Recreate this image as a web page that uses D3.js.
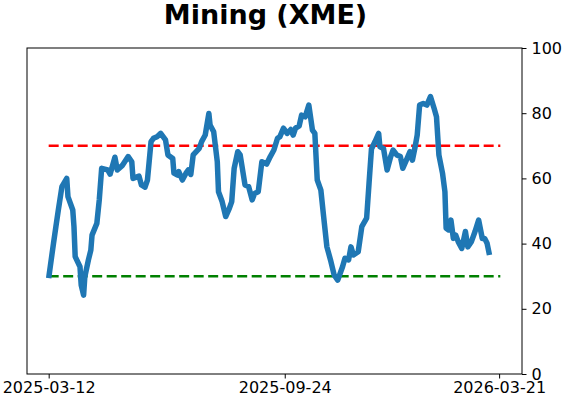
<!DOCTYPE html>
<html>
<head>
<meta charset="utf-8">
<script src="https://cdn.jsdelivr.net/npm/d3@7"></script>
<style>
  body { margin: 0; background: #fff; }
  svg text { font-family: "DejaVu Sans", sans-serif; fill: #000; }
</style>
</head>
<body>
<div class="chart"></div>
<script>
// series
var dates = [
  "2025-03-12","2025-03-16","2025-03-18","2025-03-20","2025-03-23","2025-03-27","2025-03-28",
  "2025-04-01","2025-04-02","2025-04-03","2025-04-07","2025-04-08","2025-04-10","2025-04-11",
  "2025-04-14","2025-04-16","2025-04-17","2025-04-21","2025-04-23","2025-04-25","2025-04-30",
  "2025-05-02","2025-05-06","2025-05-08","2025-05-12","2025-05-17","2025-05-20","2025-05-21",
  "2025-05-26","2025-05-28","2025-05-31","2025-06-02","2025-06-05","2025-06-07","2025-06-10",
  "2025-06-13","2025-06-17","2025-06-19","2025-06-23","2025-06-24","2025-06-27","2025-06-28",
  "2025-07-01","2025-07-04","2025-07-06","2025-07-08","2025-07-10","2025-07-15","2025-07-17",
  "2025-07-20","2025-07-23","2025-07-24","2025-07-27","2025-07-30","2025-07-31","2025-08-03",
  "2025-08-06","2025-08-09","2025-08-11","2025-08-13","2025-08-16","2025-08-18","2025-08-22",
  "2025-08-25","2025-08-28","2025-08-30","2025-09-02","2025-09-05","2025-09-09","2025-09-12",
  "2025-09-15","2025-09-18","2025-09-20","2025-09-23","2025-09-26","2025-09-29","2025-10-01",
  "2025-10-03","2025-10-06","2025-10-08","2025-10-11","2025-10-14","2025-10-17","2025-10-19",
  "2025-10-21","2025-10-24","2025-10-26","2025-10-29","2025-11-01","2025-11-04","2025-11-07",
  "2025-11-11","2025-11-13","2025-11-16","2025-11-18","2025-11-20","2025-11-24","2025-11-27",
  "2025-12-01","2025-12-03","2025-12-05","2025-12-08","2025-12-11","2025-12-12","2025-12-15",
  "2025-12-18","2025-12-21","2025-12-23","2025-12-26","2025-12-29","2025-12-31","2026-01-03",
  "2026-01-06","2026-01-08","2026-01-10","2026-01-12","2026-01-14","2026-01-17","2026-01-20",
  "2026-01-23","2026-01-26","2026-01-28","2026-01-30","2026-02-02","2026-02-04","2026-02-05",
  "2026-02-07","2026-02-09","2026-02-11","2026-02-13","2026-02-15","2026-02-18","2026-02-21",
  "2026-02-23","2026-02-26","2026-03-01","2026-03-04","2026-03-07","2026-03-09","2026-03-11",
  "2026-03-13"
];
var values = [
  29.4,40.1,45.2,50.3,57.5,60.0,54.4,
  50.3,45.2,36.0,32.9,27.3,24.2,29.8,
  35.0,38.0,42.6,46.2,53.4,63.1,62.6,
  61.3,66.5,62.6,63.9,66.7,65.1,60.0,
  60.7,58.0,57.3,59.5,71.3,72.3,72.8,
  73.8,71.8,67.2,66.1,61.6,61.0,62.1,
  59.5,61.6,62.6,61.2,67.2,69.2,71.3,
  73.3,79.9,76.4,74.3,65.1,55.9,52.9,
  48.3,50.8,52.9,63.1,68.2,67.2,58.0,
  57.5,53.4,55.4,55.9,65.1,64.4,66.7,
  68.7,72.3,72.8,75.4,73.8,75.0,73.3,
  75.4,76.1,79.4,78.9,82.5,74.8,73.8,
  59.5,56.4,49.3,39.0,35.0,30.4,28.8,
  32.9,35.5,35.0,39.0,36.5,37.5,45.2,
  47.8,58.5,69.0,71.3,73.8,69.7,69.2,
  62.6,66.7,68.7,67.2,66.7,63.1,65.6,
  68.2,65.6,69.2,73.3,82.5,83.0,82.5,
  85.1,81.5,78.9,67.2,61.6,55.9,44.7,
  44.2,47.2,41.6,42.6,40.6,38.5,43.7,
  39.0,40.6,43.7,47.2,41.6,41.6,40.1,
  36.5
];
var levels = [70, 30];
var levelColors = ["#ff0000", "#008000"];
var levelSpan = ["2025-03-12", "2026-03-22"];
var xTicks = ["2025-03-12", "2025-09-24", "2026-03-21"];
var yTicks = [0, 20, 40, 60, 80, 100];
var xDomain = ["2025-02-22", "2026-04-09"];

function draw() {
    var parse = d3.timeParse("%Y-%m-%d");
    var fmt = d3.timeFormat("%Y-%m-%d");
    var data = dates.map(function(d, i) { return {date: parse(d), value: values[i]}; });

    var width = 562, height = 402;
    var margin = {top: 48, right: 40, bottom: 28, left: 27};

    var x = d3.scaleTime()
              .domain(xDomain.map(parse))
              .range([margin.left, width - margin.right]);
    var y = d3.scaleLinear()
              .domain([0, 100])
              .range([height - margin.bottom, margin.top]);

    var svg = d3.select(".chart").append("svg")
                .attr("width", width)
                .attr("height", height);

    // threshold lines
    svg.selectAll(".level")
       .data(levels)
       .enter()
       .append("line")
       .attr("class", "level")
       .attr("x1", x(parse(levelSpan[0])))
       .attr("x2", x(parse(levelSpan[1])))
       .attr("y1", function(d) { return y(d); })
       .attr("y2", function(d) { return y(d); })
       .attr("stroke", function(d, i) { return levelColors[i]; })
       .attr("stroke-width", 2.6)
       .attr("stroke-dasharray", "10,4.5");

    var line = d3.line()
                 .x(function(d) { return x(d.date); })
                 .y(function(d) { return y(d.value); });

    svg.append("path")
       .datum(data)
       .attr("fill", "none")
       .attr("stroke", "#1f77b4")
       .attr("stroke-width", 5.5)
       .attr("stroke-linejoin", "round")
       .attr("stroke-linecap", "butt")
       .attr("d", line);

    // frame
    svg.append("rect")
       .attr("x", margin.left)
       .attr("y", margin.top)
       .attr("width", width - margin.right - margin.left)
       .attr("height", height - margin.bottom - margin.top)
       .attr("fill", "none")
       .attr("stroke", "#000")
       .attr("stroke-width", 1);

    var xAxis = svg.append("g")
       .attr("transform", "translate(0," + (height - margin.bottom) + ")")
       .call(d3.axisBottom(x)
               .tickValues(xTicks.map(parse))
               .tickFormat(fmt)
               .tickSize(4.5)
               .tickPadding(3));
    xAxis.select(".domain").remove();
    xAxis.selectAll("text").style("font-size", "16px");

    var yAxis = svg.append("g")
       .attr("transform", "translate(" + (width - margin.right) + ",0)")
       .call(d3.axisRight(y)
               .tickValues(yTicks)
               .tickSize(4.5)
               .tickPadding(5));
    yAxis.select(".domain").remove();
    yAxis.selectAll("text").style("font-size", "16px");

    svg.append("text")
       .attr("x", 265.5)
       .attr("y", 24)
       .attr("text-anchor", "middle")
       .style("font-size", "27px")
       .style("font-weight", "bold")
       .text("Mining (XME)");
}

draw();
</script>
</body>
</html>
